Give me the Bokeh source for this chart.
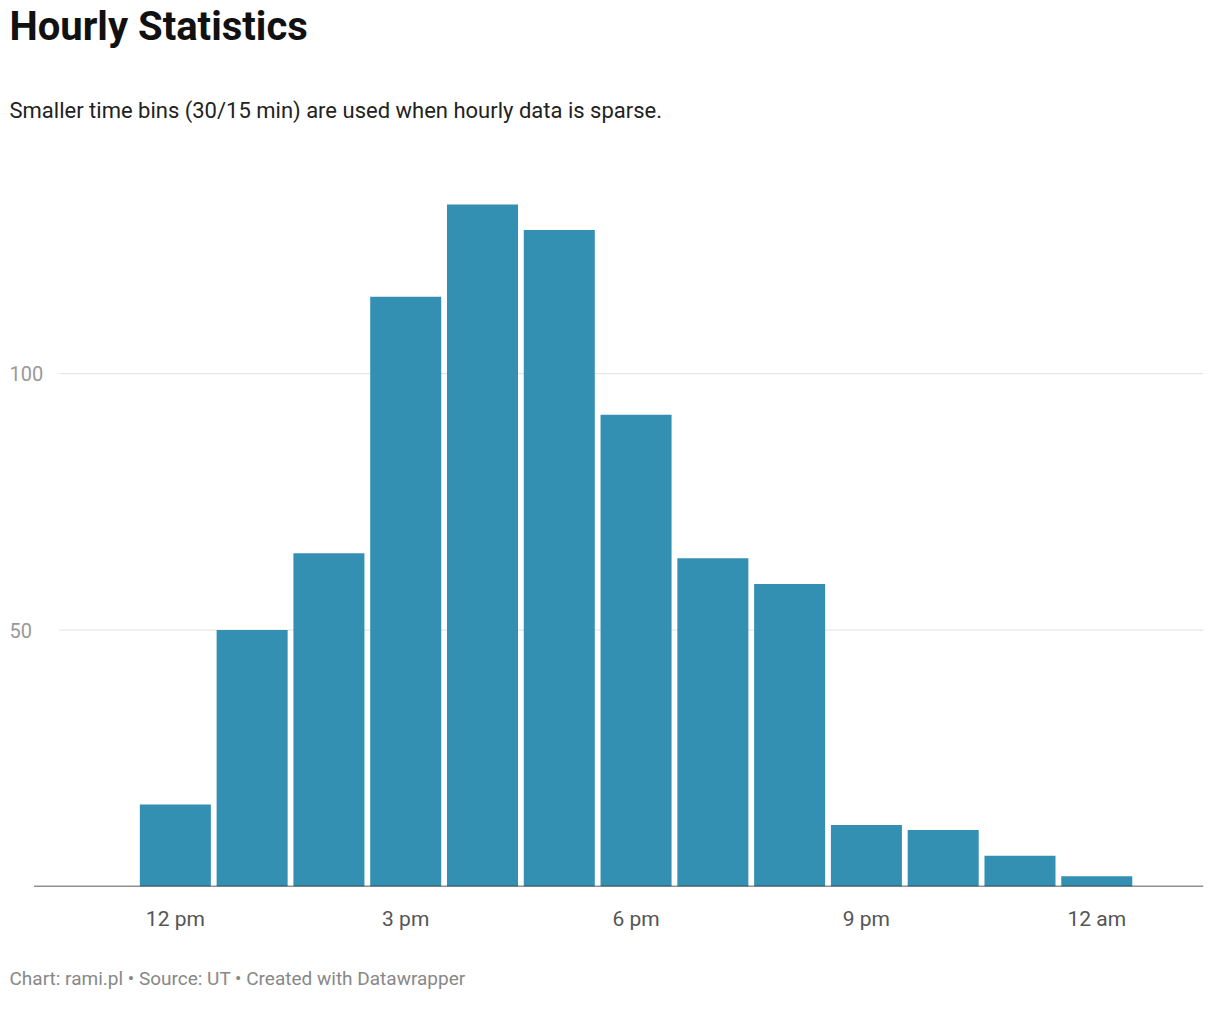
from bokeh.plotting import figure
from bokeh.models import Title, FixedTicker
from bokeh.embed import file_html
from bokeh.resources import INLINE
from bokeh.core.properties import value

hours = [12, 13, 14, 15, 16, 17, 18, 19, 20, 21, 22, 23, 24]
counts = [16, 50, 65, 115, 133, 128, 92, 64, 59, 12, 11, 6, 2]
tick_pos = [12, 15, 18, 21, 24]
tick_labels = {12: "12 pm", 15: "3 pm", 18: "6 pm", 21: "9 pm", 24: "12 am"}
grid_vals = [50, 100]

p = figure(width=1204, height=1020, x_range=(9.84, 25.39), y_range=(0, 140),
           output_backend="svg", toolbar_location=None,
           min_border_left=9, min_border_right=1, min_border_top=5, min_border_bottom=0)
p.outline_line_color = None
p.xgrid.visible = False
p.ygrid.visible = False
p.yaxis.visible = False

for g in grid_vals:
    p.segment(x0=[10.49], y0=[g], x1=[25.39], y1=[g], line_color="#e0e0e0", line_width=1, level="underlay")
p.vbar(x=hours, top=counts, width=0.925, color="#3490b3", line_color=None)
p.text(x=[9.84] * len(grid_vals), y=grid_vals, text=[str(g) for g in grid_vals],
       text_font=value("Roboto"), text_font_size="20px", text_color="#999999",
       text_baseline="middle", text_align="left")
p.segment(x0=[10.16], y0=[0], x1=[25.39], y1=[0], line_color="#222222", line_width=1.5)

p.xaxis.ticker = FixedTicker(ticks=tick_pos)
p.xaxis.major_label_overrides = tick_labels
p.xaxis.axis_line_color = None
p.xaxis.major_tick_line_color = None
p.xaxis.minor_tick_line_color = None
p.xaxis.major_label_text_font = "Roboto"
p.xaxis.major_label_text_font_size = "21px"
p.xaxis.major_label_text_color = "#555555"
p.xaxis.major_label_standoff = 14

p.add_layout(Title(text="Chart: rami.pl • Source: UT • Created with Datawrapper",
                   text_font="Roboto", text_font_size="19px", text_color="#888888",
                   text_font_style="normal", standoff=62), "below")
p.add_layout(Title(text="Smaller time bins (30/15 min) are used when hourly data is sparse.",
                   text_font="Roboto", text_font_size="22px", text_color="#222222",
                   text_font_style="normal", standoff=92), "above")
p.add_layout(Title(text="Hourly Statistics", text_font="Roboto", text_font_size="40px",
                   text_font_style="bold", text_color="#111111", standoff=0), "above")

open("out.html", "w").write(file_html(p, INLINE))
